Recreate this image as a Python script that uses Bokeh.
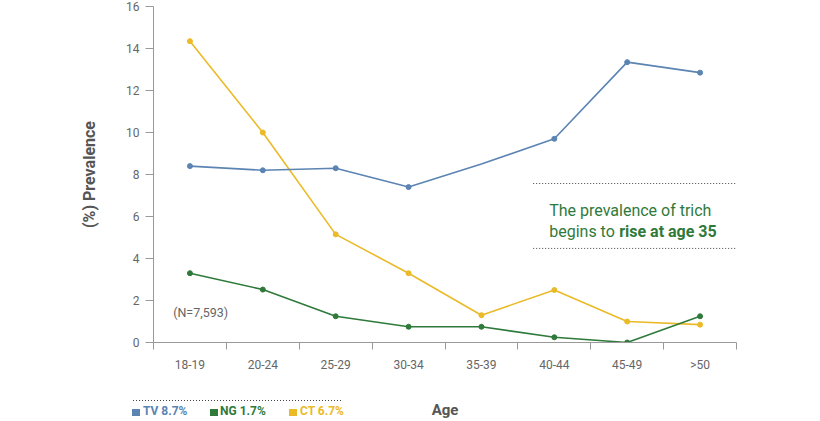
from bokeh.plotting import figure
from bokeh.layouts import column
from bokeh.models import (ColumnDataSource, Range1d, FixedTicker, Label, Arrow,
                          CDSView, BooleanFilter, Div)
from bokeh.embed import file_html
from bokeh.resources import INLINE

ages = ["18-19", "20-24", "25-29", "30-34", "35-39", "40-44", "45-49", ">50"]
tv = [8.4, 8.2, 8.3, 7.4, 8.5, 9.7, 13.35, 12.85]
ng = [3.3, 2.52, 1.25, 0.75, 0.75, 0.25, 0.0, 1.25]
ct = [14.35, 10.0, 5.15, 3.3, 1.3, 2.5, 1.0, 0.85]
tv_marked = [True, True, True, True, False, True, True, True]
y_ticks = [0, 2, 4, 6, 8, 10, 12, 14, 16]
legend_labels = ["TV 8.7%", "NG 1.7%", "CT 6.7%"]

BLUE = "#5b84b3"
GREEN = "#2f7a3b"
YELLOW = "#ebba28"
GREY = "#666666"
FONT = "Roboto"

xs = [i + 0.5 for i in range(len(ages))]
src = ColumnDataSource(dict(x=xs, tv=tv, ng=ng, ct=ct))

p = figure(width=820, height=385, output_backend="svg", toolbar_location=None,
           x_range=Range1d(0, len(ages)), y_range=Range1d(0, 16),
           min_border_left=153, min_border_right=84, min_border_top=6,
           min_border_bottom=43, background_fill_color="white",
           border_fill_color="white", outline_line_color=None)
p.grid.visible = False

for col, color in [("ct", YELLOW), ("tv", BLUE), ("ng", GREEN)]:
    p.line("x", col, source=src, line_color=color, line_width=1.6)
    if col == "tv":
        view = CDSView(filter=BooleanFilter(tv_marked))
        p.scatter("x", col, source=src, view=view, size=5, fill_color=color, line_color=color)
    else:
        p.scatter("x", col, source=src, size=5, fill_color=color, line_color=color)

# axes
xa = p.xaxis[0]
xa.ticker = FixedTicker(ticks=xs, minor_ticks=list(range(len(ages) + 1)))
xa.major_label_overrides = {x: a for x, a in zip(xs, ages)}
xa.major_tick_in = 0
xa.major_tick_out = 0
xa.minor_tick_in = 0
xa.minor_tick_out = 7
xa.minor_tick_line_color = "#999999"
xa.axis_line_color = "#999999"
xa.major_label_standoff = 8
xa.major_label_text_font = FONT
xa.major_label_text_font_size = "12px"
xa.major_label_text_color = GREY

ya = p.yaxis[0]
ya.ticker = FixedTicker(ticks=y_ticks, minor_ticks=[])
ya.major_tick_in = 0
ya.major_tick_out = 8
ya.major_tick_line_color = "#999999"
ya.axis_line_color = "#999999"
ya.major_label_standoff = 6
ya.major_label_text_font = FONT
ya.major_label_text_font_size = "12px"
ya.major_label_text_color = GREY
ya.axis_label = "(%) Prevalence"
ya.axis_label_text_font = FONT
ya.axis_label_text_font_style = "bold"
ya.axis_label_text_font_size = "16px"
ya.axis_label_text_color = "#555555"
ya.axis_label_standoff = 24

# sample size
p.add_layout(Label(x=0.27, y=1.05, text="(N=7,593)", text_font=FONT,
                   text_font_size="12.5px", text_color=GREY))

# annotation box
for yy in (7.57, 4.48):
    p.add_layout(Arrow(x_start=5.21, y_start=yy, x_end=8.0, y_end=yy, end=None,
                       line_color="#444444", line_width=1, line_dash="1 2"))
p.add_layout(Label(x=5.43, y=6.3, text="The prevalence of trich", text_font=FONT,
                   text_font_size="16px", text_color=GREEN, text_baseline="alphabetic"))
p.add_layout(Label(x=5.43, y=5.3, text="begins to", text_font=FONT,
                   text_font_size="16px", text_color=GREEN, text_baseline="alphabetic"))
p.add_layout(Label(x=6.39, y=5.3, text="rise at age 35", text_font=FONT,
                   text_font_size="16px", text_font_style="bold", text_color=GREEN,
                   text_baseline="alphabetic"))

# bottom strip (HTML): axis title and legend
sw_x = [132, 210, 289]
tx_x = [143, 220, 300]
parts = [
    '<div style="position:absolute;left:133px;top:15px;width:210px;height:1px;'
    'background-image:linear-gradient(to right,#444 1px,transparent 1px);'
    'background-size:3px 1px;"></div>',
    '<span style="position:absolute;left:420px;top:18px;width:50px;text-align:center;'
    'font-family:Roboto;font-size:15px;line-height:15px;font-weight:bold;'
    'color:#555555;white-space:nowrap;">Age</span>',
]
for sx, tx, lab, color in zip(sw_x, tx_x, legend_labels, [BLUE, GREEN, YELLOW]):
    parts.append('<div style="position:absolute;left:%dpx;top:23.5px;width:7.5px;height:7px;'
                 'background:%s;"></div>' % (sx, color))
    parts.append('<span style="position:absolute;left:%dpx;top:20px;font-family:Roboto;'
                 'font-size:12px;line-height:12px;font-weight:bold;color:%s;'
                 'white-space:nowrap;">%s</span>' % (tx, color, lab))
html = ('<div style="position:relative;width:820px;height:36px;background:white;'
        'overflow:hidden;">' + "".join(parts) + '</div>')
strip = Div(text=html, width=820, height=36, margin=0,
            styles={"margin": "0", "padding": "0"})

layout = column(p, strip, spacing=0)
open("out.html", "w").write(file_html(layout, INLINE))
